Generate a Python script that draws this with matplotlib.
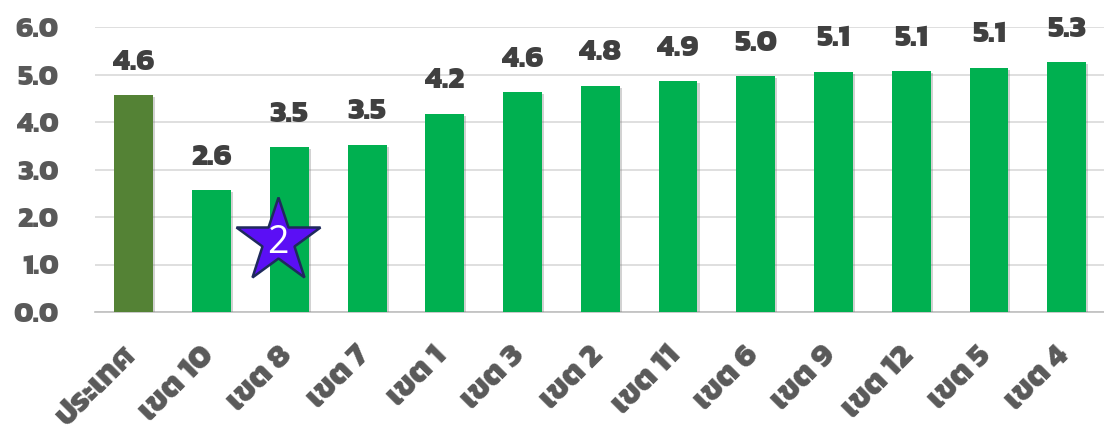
import matplotlib
matplotlib.use("Agg")
import matplotlib.pyplot as plt
import matplotlib.patheffects as pe
from matplotlib.transforms import ScaledTranslation

# data
regions = ["ประเทศ", "เขต 10", "เขต 8", "เขต 7", "เขต 1", "เขต 3", "เขต 2",
           "เขต 11", "เขต 6", "เขต 9", "เขต 12", "เขต 5", "เขต 4"]
values = [4.56, 2.56, 3.47, 3.52, 4.17, 4.63, 4.76, 4.86, 4.96, 5.06, 5.07, 5.14, 5.26]
value_labels = ["4.6", "2.6", "3.5", "3.5", "4.2", "4.6", "4.8", "4.9", "5.0", "5.1", "5.1", "5.1", "5.3"]
yticks = [0, 1, 2, 3, 4, 5, 6]

thai = ["Kanit", "DejaVu Sans"]
W = 800

fig = plt.figure(figsize=(11.04, 4.3), dpi=100)
ax = fig.add_axes([95 / 1104, 1 - 312 / 430, 1009 / 1104, 285 / 430])

colors = ["#548235"] + ["#00B050"] * (len(values) - 1)
x = list(range(len(values)))
bars = ax.bar(x, values, width=0.5, color=colors, zorder=3)
for b in bars:
    b.set_path_effects([pe.SimplePatchShadow(offset=(1.5, -1.5), shadow_rgbFace="#7f7f7f", alpha=0.35),
                        pe.Normal()])

for xi, v, lab in zip(x, values, value_labels):
    ax.annotate(lab, (xi, v), xytext=(0, 14), textcoords="offset points",
                ha="center", va="bottom", fontsize=22, fontweight=W,
                color="#404040", family=thai)

ax.set_xlim(-0.5, 12.48)
ax.set_ylim(0, 6)
ax.set_yticks(yticks)
ax.set_yticklabels([f"{t:.1f}" for t in yticks], fontsize=21, fontweight=W,
                   color="#595959", family=thai)
ax.set_xticks(x)
ax.set_xticklabels(regions, rotation=45, ha="right", rotation_mode="anchor",
                   fontsize=23, fontweight=W, color="#595959", family=thai)
ax.tick_params(axis="both", length=0)
ax.tick_params(axis="y", pad=26)
ax.tick_params(axis="x", pad=18)
shift = ScaledTranslation(-12 / 100, -4 / 100, fig.dpi_scale_trans)
for t in ax.get_xticklabels():
    t.set_transform(t.get_transform() + shift)

ax.grid(axis="y", color="#D9D9D9", linewidth=1.2, zorder=0)
for s in ["top", "right", "left"]:
    ax.spines[s].set_visible(False)
ax.spines["bottom"].set_color("#BFBFBF")
ax.spines["bottom"].set_linewidth(1.2)

# star badge
ax.plot([1.85], [1.49], marker="*", markersize=64, markerfacecolor="#5B0FF5",
        markeredgecolor="#1F2A5C", markeredgewidth=1.8, zorder=5, clip_on=False)
ax.text(1.85, 1.46, "2", ha="center", va="center", fontsize=27, color="white",
        family=["Open Sans", "DejaVu Sans"], zorder=6)

fig.savefig("out.png", dpi=100)
